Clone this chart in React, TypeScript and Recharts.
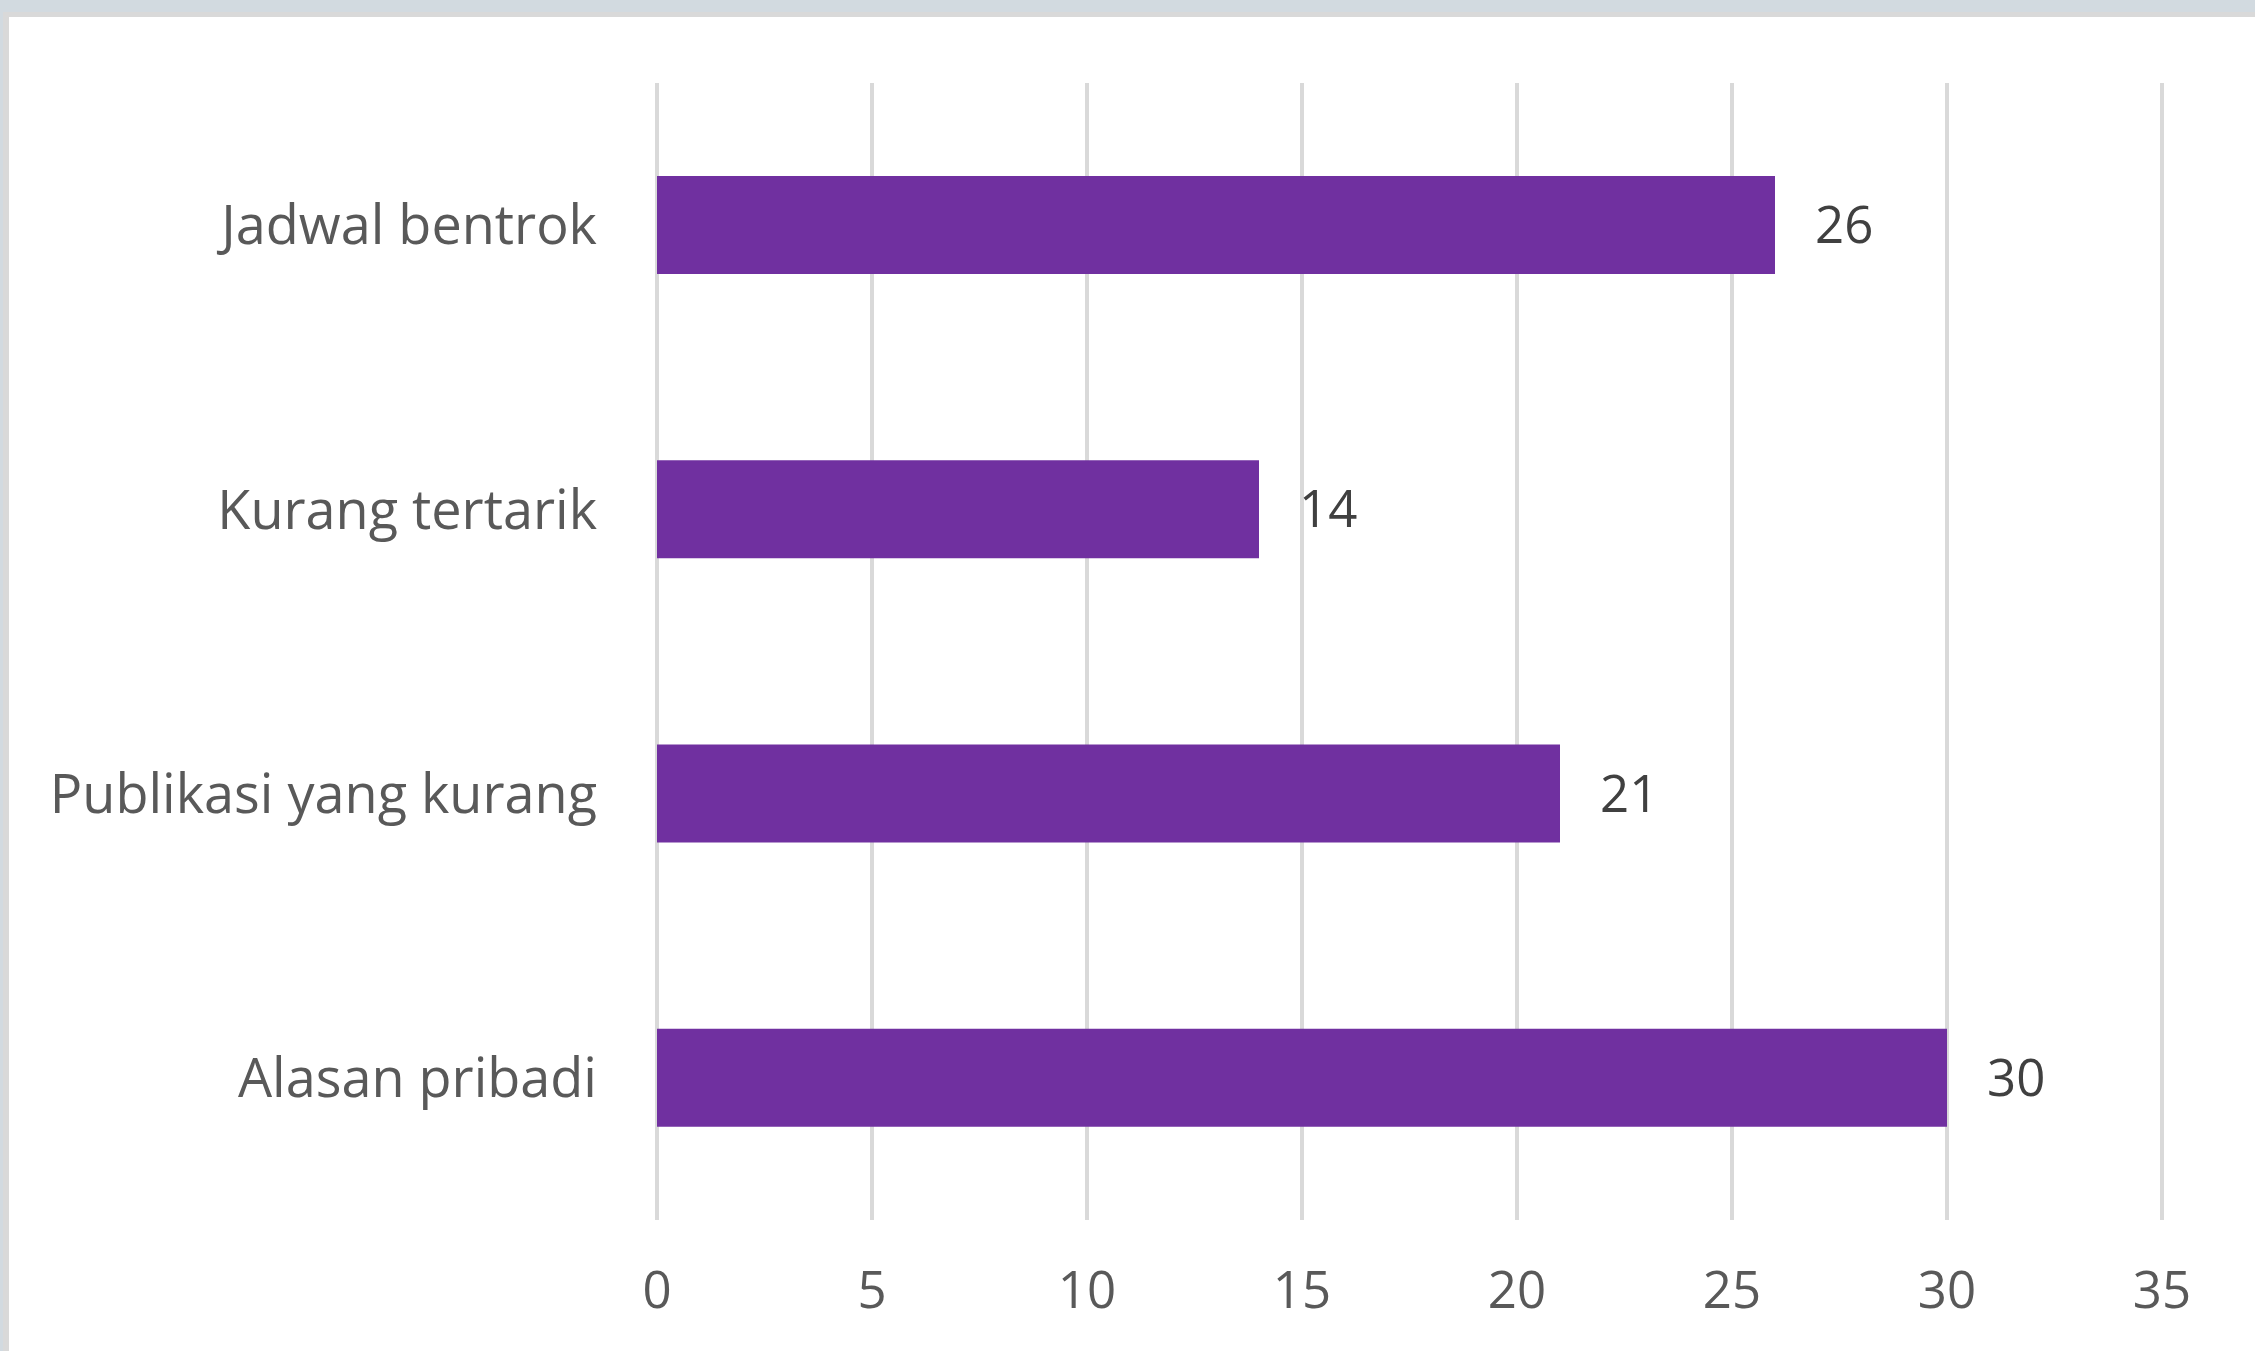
import { BarChart, Bar, XAxis, YAxis, CartesianGrid, LabelList } from "recharts";

const categories = ["Jadwal bentrok", "Kurang tertarik", "Publikasi yang kurang", "Alasan pribadi"];
const counts = [26, 14, 21, 30];
const xTicks = [0, 5, 10, 15, 20, 25, 30, 35];

const rows = categories.map((name, i) => ({ name, value: counts[i] }));

const fontFamily = "'Open Sans', sans-serif";

export default function App() {
  return (
    <div
      style={{
        position: "fixed",
        left: 0,
        top: 0,
        width: 2255,
        height: 1351,
        background: "#d2dae0",
        overflow: "hidden",
      }}
    >
      {/* white chart panel with the grey frame */}
      <div
        style={{
          position: "absolute",
          left: 3,
          top: 12,
          width: 2300,
          height: 1400,
          background: "#ffffff",
          borderLeft: "6px solid #d9d9d9",
          borderTop: "5px solid #d9d9d9",
        }}
      />
      <div style={{ position: "absolute", left: 0, top: 0 }}>
        <BarChart
          width={2255}
          height={1351}
          data={rows}
          layout="vertical"
          margin={{ top: 83, right: 93, left: 0, bottom: 0 }}
        >
          <CartesianGrid horizontal={false} stroke="#d9d9d9" strokeWidth={4} />
          <XAxis
            type="number"
            domain={[0, 35]}
            ticks={xTicks}
            interval={0}
            axisLine={false}
            tickLine={false}
            tickSize={0}
            tickMargin={52}
            height={131}
            tick={{ fill: "#595959", fontSize: 51, fontFamily }}
          />
          <YAxis
            type="category"
            dataKey="name"
            width={657}
            axisLine={false}
            tickLine={false}
            tickSize={0}
            tickMargin={60}
            tick={{ fill: "#595959", fontSize: 54, fontFamily }}
          />
          <Bar dataKey="value" fill="#7030a0" barSize={98} isAnimationActive={false}>
            <LabelList
              dataKey="value"
              position="right"
              offset={40}
              fill="#404040"
              fontSize={51}
              fontFamily={fontFamily}
            />
          </Bar>
        </BarChart>
      </div>
    </div>
  );
}
